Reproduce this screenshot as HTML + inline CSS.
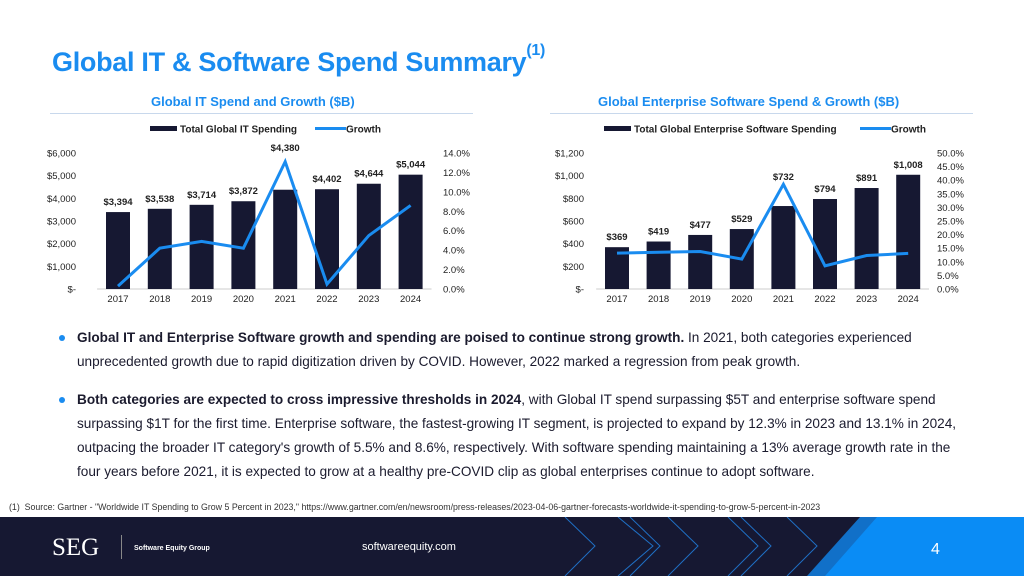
<!DOCTYPE html>
<html><head><meta charset="utf-8"><style>
body{margin:0;width:1024px;height:576px;overflow:hidden;background:#fff;font-family:"Liberation Sans",Arial,sans-serif;position:relative}
.abs{position:absolute;white-space:nowrap}
.title{left:52px;top:47px;font-size:27px;font-weight:bold;color:#1a8cf0;letter-spacing:-0.3px}
.title sup{font-size:16px;vertical-align:top;position:relative;top:-5px}
.ct{font-size:13px;font-weight:bold;color:#1a8cf0}
.line{font-size:13.6px;color:#1b1b2e}
.dot{width:6px;height:6px;border-radius:3px;background:#1a8cf0;position:absolute}
</style></head><body>
<div class="abs title">Global IT &amp; Software Spend Summary<sup>(1)</sup></div>
<div class="abs ct" style="left:151px;top:94px">Global IT Spend and Growth ($B)</div>
<div class="abs ct" style="left:598px;top:94px">Global Enterprise Software Spend &amp; Growth ($B)</div>
<div class="abs" style="left:50px;top:113px;width:423px;height:1px;background:#c8d8ec"></div>
<div class="abs" style="left:550px;top:113px;width:423px;height:1px;background:#c8d8ec"></div>
<svg id="charts" class="abs" style="left:0;top:0" width="1024" height="320"></svg>

<div class="dot" style="left:59px;top:335px"></div>
<div class="abs line" style="left:77px;top:330px"><b>Global IT and Enterprise Software growth and spending are poised to continue strong growth.</b> In 2021, both categories experienced</div>
<div class="abs line" style="left:77px;top:354px">unprecedented growth due to rapid digitization driven by COVID. However, 2022 marked a regression from peak growth.</div>
<div class="dot" style="left:59px;top:397px"></div>
<div class="abs line" style="left:77px;top:392px"><b>Both categories are expected to cross impressive thresholds in 2024</b>, with Global IT spend surpassing $5T and enterprise software spend</div>
<div class="abs line" style="left:77px;top:416px">surpassing $1T for the first time. Enterprise software, the fastest-growing IT segment, is projected to expand by 12.3% in 2023 and 13.1% in 2024,</div>
<div class="abs line" style="left:77px;top:440px">outpacing the broader IT category's growth of 5.5% and 8.6%, respectively. With software spending maintaining a 13% average growth rate in the</div>
<div class="abs line" style="left:77px;top:464px">four years before 2021, it is expected to grow at a healthy pre-COVID clip as global enterprises continue to adopt software.</div>
<div class="abs" style="left:9px;top:502px;font-size:8.8px;color:#333">(1)&nbsp; Source: Gartner - "Worldwide IT Spending to Grow 5 Percent in 2023," https://www.gartner.com/en/newsroom/press-releases/2023-04-06-gartner-forecasts-worldwide-it-spending-to-grow-5-percent-in-2023</div>

<svg class="abs" style="left:0;top:517px" width="1024" height="59">
<rect width="1024" height="59" fill="#161832"/>
<g stroke="#1f6fc4" stroke-width="1" fill="none">
<polyline points="565,0 595,29 565,59"/><polyline points="618,0 653,29 618,59"/><polyline points="630,0 660,29 630,59"/>
<polyline points="668,0 698,29 668,59"/><polyline points="728,0 758,29 728,59"/><polyline points="741,0 771,29 741,59"/>
<polyline points="787,0 817,29 787,59"/>
</g>
<polygon points="860,0 1024,0 1024,59 807,59" fill="#1170c8"/>
<polygon points="877,0 1024,0 1024,59 825,59" fill="#0a8cf5"/>
<text x="52" y="38" font-family="Liberation Serif,serif" font-size="25" fill="#fff">SEG</text>
<rect x="121" y="18" width="1" height="24" fill="#888"/>
<text x="134" y="33" font-size="7" fill="#fff" font-weight="bold">Software Equity Group</text>
<text x="362" y="33" font-size="11" fill="#fff">softwareequity.com</text>
<text x="931" y="37" font-size="16" fill="#fff">4</text>
</svg>

<script>
const years=["2017","2018","2019","2020","2021","2022","2023","2024"];
const itSpend=[3394,3538,3714,3872,4380,4402,4644,5044];
const itGrowth=[0.3,4.2,4.9,4.2,13.1,0.5,5.5,8.6];
const itLeftTicks=[0,1000,2000,3000,4000,5000,6000];
const itRightTicks=[0,2,4,6,8,10,12,14];
const swSpend=[369,419,477,529,732,794,891,1008];
const swGrowth=[13.2,13.5,13.8,11.0,38.5,8.5,12.3,13.1];
const swLeftTicks=[0,200,400,600,800,1000,1200];
const swRightTicks=[0,5,10,15,20,25,30,35,40,45,50];
const NS="http://www.w3.org/2000/svg";
const svg=document.getElementById('charts');
function mk(t,a,txt){const e=document.createElementNS(NS,t);for(const k in a)e.setAttribute(k,a[k]);if(txt!==undefined)e.textContent=txt;svg.appendChild(e);return e;}
function fmtL(v){return v===0?"$-":"$"+v.toLocaleString("en-US");}
function chart(o){
  const top=153,bot=289;
  const ly=v=>bot-(v/o.lmax)*(bot-top);
  const ry=v=>bot-(v/o.rmax)*(bot-top);
  const x=i=>o.x0+i*o.dx;
  o.lt.forEach(v=>{const t=mk('text',{x:o.lax,y:ly(v)+3.5,'font-size':9.5,fill:'#222','text-anchor':'end'},fmtL(v));
    });
  o.rt.forEach(v=>{const t=mk('text',{x:o.rax,y:ry(v)+3.5,'font-size':9.5,fill:'#222'},v.toFixed(1)+"%");
    });
  mk('line',{x1:o.x0-o.dx/2,x2:x(7)+o.dx/2,y1:bot,y2:bot,stroke:'#ccc','stroke-width':1});
  o.spend.forEach((v,i)=>{
    const r=mk('rect',{x:x(i)-12,y:ly(v),width:24,height:bot-ly(v),fill:'#161832'});
    
    const yl=i===4?(o.peakAbs?top-2:ly(v)-26):ly(v)-7;
    const t=mk('text',{x:x(i),y:yl,'font-size':9.5,'font-weight':'bold',fill:'#222','text-anchor':'middle'},"$"+v.toLocaleString("en-US"));
    
    const c=mk('text',{x:x(i),y:302,'font-size':9.5,fill:'#222','text-anchor':'middle'},years[i]);
    
  });
  const p=mk('polyline',{points:o.growth.map((g,i)=>x(i)+","+ry(g)).join(" "),fill:'none',stroke:'#1a8cf0','stroke-width':3,'stroke-linejoin':'miter'});
  
  const lr=mk('rect',{x:o.legx,y:126,width:27,height:5,fill:'#161832'});
  
  const lt=mk('text',{x:o.legx+30,y:132.5,'font-size':10,'font-weight':'bold',fill:'#222'},o.legText);
  
  const ll=mk('line',{x1:o.legx2,x2:o.legx2+31,y1:128.5,y2:128.5,stroke:'#1a8cf0','stroke-width':3});
  
  const lg=mk('text',{x:o.legx2+31,y:132.5,'font-size':10,'font-weight':'bold',fill:'#222'},'Growth');
  
}
chart({x0:118,dx:41.8,lmax:6000,rmax:14,lt:itLeftTicks,rt:itRightTicks,spend:itSpend,growth:itGrowth,lax:76,rax:443,legx:150,legx2:315,legText:'Total Global IT Spending',peakAbs:true});
chart({x0:617,dx:41.6,lmax:1200,rmax:50,lt:swLeftTicks,rt:swRightTicks,spend:swSpend,growth:swGrowth,lax:584,rax:937,legx:604,legx2:860,legText:'Total Global Enterprise Software Spending',peakAbs:false});
</script>
</body></html>
